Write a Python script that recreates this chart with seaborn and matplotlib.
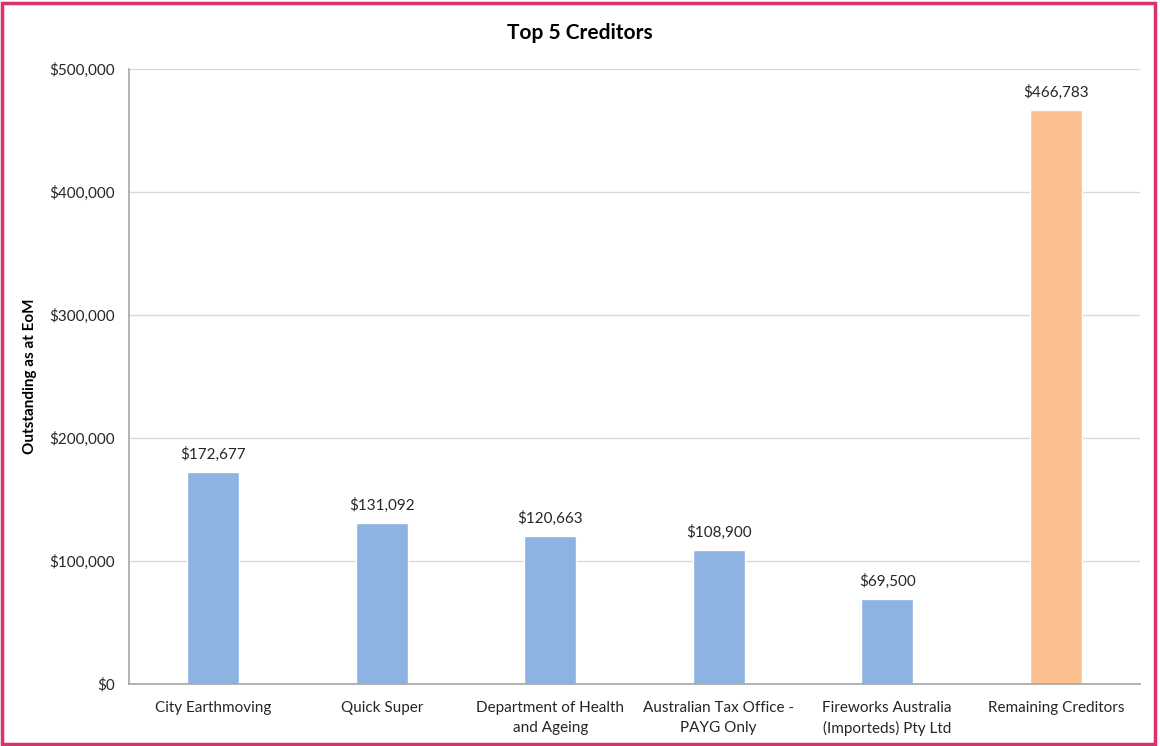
import matplotlib
matplotlib.use('Agg')
import matplotlib.pyplot as plt
import matplotlib.ticker as mticker
from matplotlib.patches import Rectangle
import pandas as pd
import seaborn as sns

# chart data
creditors = [
    'City Earthmoving',
    'Quick Super',
    'Department of Health\nand Ageing',
    'Australian Tax Office -\nPAYG Only',
    'Fireworks Australia\n(Importeds) Pty Ltd',
    'Remaining Creditors',
]
outstanding = [172677, 131092, 120663, 108900, 69500, 466783]
bar_colors = ['#8DB3E2', '#8DB3E2', '#8DB3E2', '#8DB3E2', '#8DB3E2', '#FAC090']

sns.set_theme(style='white')
plt.rcParams['font.family'] = ['Lato', 'DejaVu Sans']

df = pd.DataFrame({'creditor': creditors, 'amount': outstanding})

fig = plt.figure(figsize=(11.6, 7.46), dpi=100)
ax = fig.add_axes([129 / 1160, 1 - 684 / 746, (1140 - 129) / 1160, (684 - 69) / 746])

sns.barplot(data=df, x='creditor', y='amount', hue='creditor',
            palette=bar_colors, legend=False, width=0.31, saturation=1, ax=ax)

ax.set_ylim(0, 500000)
ax.set_xlim(-0.5, len(creditors) - 0.5)
ax.yaxis.set_major_locator(mticker.MultipleLocator(100000))
ax.yaxis.set_major_formatter(mticker.FuncFormatter(lambda v, _: f'${v:,.0f}'))
ax.grid(axis='y', color='#D9D9D9', linewidth=1)
ax.set_axisbelow(True)

for side in ['top', 'right']:
    ax.spines[side].set_visible(False)
for side in ['left', 'bottom']:
    ax.spines[side].set_color('#A6A6A6')
    ax.spines[side].set_linewidth(1.2)

ax.tick_params(axis='both', labelsize=11, colors='#262626', length=0)
ax.tick_params(axis='x', pad=12)
ax.tick_params(axis='y', pad=10)
for lbl in ax.get_xticklabels():
    lbl.set_linespacing(1.55)

ax.set_xlabel('')
ax.set_ylabel('Outstanding as at EoM', fontsize=11, fontweight='bold', color='black')
ax.yaxis.set_label_coords(-0.091, 0.5)

for i, val in enumerate(outstanding):
    ax.text(i, val + 8000, f'${val:,.0f}', ha='center', va='bottom',
            fontsize=11, color='#262626')

fig.text(0.5, 1 - 33 / 746, 'Top 5 Creditors', ha='center', va='center',
         fontsize=15, fontweight='bold', color='black')

fig.patches.append(Rectangle((0.002, 0.003), 0.994, 0.993, transform=fig.transFigure,
                             fill=False, edgecolor='#D9326C', linewidth=2.5))

fig.savefig('out.png', dpi=100)
